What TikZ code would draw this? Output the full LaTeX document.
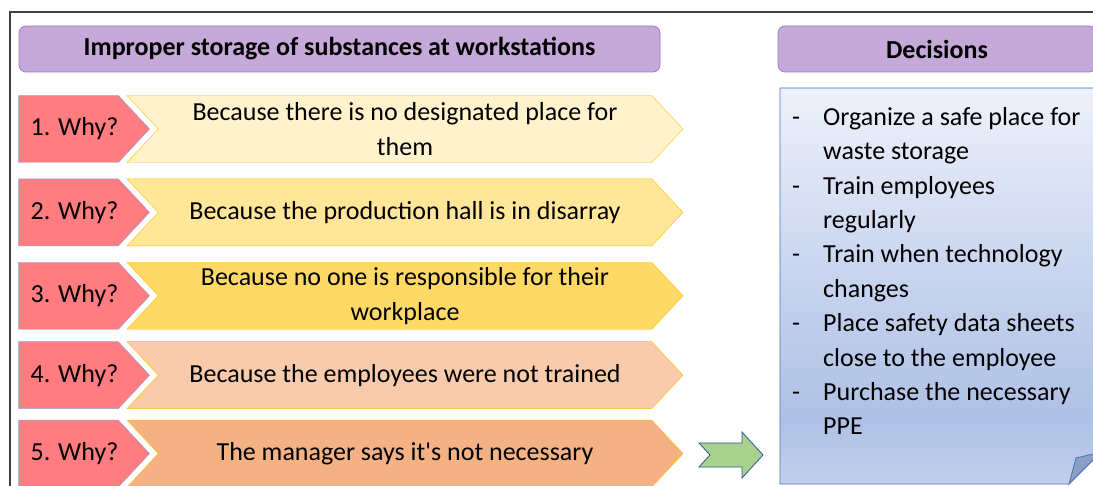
\documentclass[tikz,border=0pt]{standalone}
\usepackage{fontspec}
\setmainfont{Carlito}
\usepackage{tikz}
\usetikzlibrary{shapes.symbols, arrows.meta, positioning, calc}

\definecolor{headfill}{HTML}{C5A9D9}
\definecolor{headline}{HTML}{A27BC9}
\definecolor{whyfill}{HTML}{FF7C80}
\definecolor{whyline}{HTML}{8EA5D8}
\definecolor{goldline}{HTML}{FFC000}
\definecolor{becA}{HTML}{FFF2CC}
\definecolor{becB}{HTML}{FFE699}
\definecolor{becC}{HTML}{FFD966}
\definecolor{becD}{HTML}{F8CBAD}
\definecolor{becE}{HTML}{F4B183}
\definecolor{decline}{HTML}{4472C4}
\definecolor{decA}{HTML}{EEF1FA}
\definecolor{decM}{HTML}{C6D3EE}
\definecolor{decB}{HTML}{AEC0E5}
\definecolor{decC}{HTML}{C3D0EC}
\definecolor{foldfill}{HTML}{8E9FC6}
\definecolor{arrfill}{HTML}{A9D18E}
\definecolor{arrline}{HTML}{2F5597}

\pgfdeclareverticalshading{decshade}{100bp}{color(0bp)=(decC); color(25bp)=(decC);
  color(33bp)=(decB); color(50bp)=(decM); color(75bp)=(decA); color(100bp)=(decA)}

\newcommand{\rowfont}{\fontsize{26}{35}\selectfont}
\newcommand{\decitem}{\makebox[31pt][l]{-}}
\newcommand{\decmore}{\hspace*{31pt}}

\begin{document}
\begin{tikzpicture}[
      x=1pt, y=-1pt,
      header/.style ={rectangle, rounded corners=7pt, draw=headline, fill=headfill, line width=0.8pt,
                      minimum height=46pt, font=\rowfont\bfseries},
      why/.style    ={signal, signal to=east, signal pointer angle=94, draw=whyline, fill=whyfill,
                      minimum width=130pt, minimum height=67pt, inner sep=0pt, font=\rowfont,
                      execute at begin node=\hspace*{12pt}},
      because/.style={signal, signal from=west, signal to=east, signal pointer angle=94, draw=goldline,
                      fill=#1, minimum width=556pt, minimum height=67pt, inner sep=0pt, align=center, font=\rowfont},
      declist/.style={align=left, inner sep=0pt, font=\fontsize{26}{34.4}\selectfont},
      node distance=16pt and 2cm
    ]

    \clip (0,0) rectangle (1093,486);

    % Rahmen
    \draw[line width=1.2pt, black!75] (10,495) -- (10,12) -- (1100,12);

    % Overskrifter
    \node[header, minimum width=641pt] (prob) at (339.5,49) {Improper storage of substances at workstations};
    \node[header, minimum width=318pt] (dec)  at (937,49)   {Decisions};

    % Hvorfor-noder
    \node[why] (w1) at (68.5,129) {1. Why?};
    \node[why, below=of w1] (w2) {2. Why?};
    \node[why, below=of w2] (w3) {3. Why?};
    \node[why, below=12pt of w3] (w4) {4. Why?};
    \node[why, below=11pt of w4] (w5) {5. Why?};

    % Svar-noder
    \node[because=becA] (b1) at (405,129) {Because there is no designated place for\\them};
    \node[because=becB, below=of b1] (b2) {Because the production hall is in disarray};
    \node[because=becC, below=of b2] (b3) {Because no one is responsible for their\\workplace};
    \node[because=becD, below=12pt of b3] (b4) {Because the employees were not trained};
    \node[because=becE, below=11pt of b4] (b5) {The manager says it\textquotesingle s not necessary};

    % Beslutninger
    \shadedraw[shading=decshade, draw=decline, line width=0.8pt]
      (780,88) -- (1101,88) -- (1101,452) -- (1069,484) -- (780,484) -- cycle;
    \filldraw[fill=foldfill, draw=decline, line width=0.8pt] (1069,484) -- (1076,458) -- (1101,452) -- cycle;
    \node[declist, anchor=north west] (dl) at (792,107) {%
      \decitem Organize a safe place for\\ \decmore waste storage\\
      \decitem Train employees\\ \decmore regularly\\
      \decitem Train when technology\\ \decmore changes\\
      \decitem Place safety data sheets\\ \decmore close to the employee\\
      \decitem Purchase the necessary\\ \decmore PPE};

    % Pil
    \filldraw[fill=arrfill, draw=arrline, line width=0.8pt]
      (699,443) -- (742,443) -- (742,432) -- (763,455) -- (742,478) -- (742,467) -- (699,467) -- (710,455) -- cycle;

  \end{tikzpicture}
\end{document}
